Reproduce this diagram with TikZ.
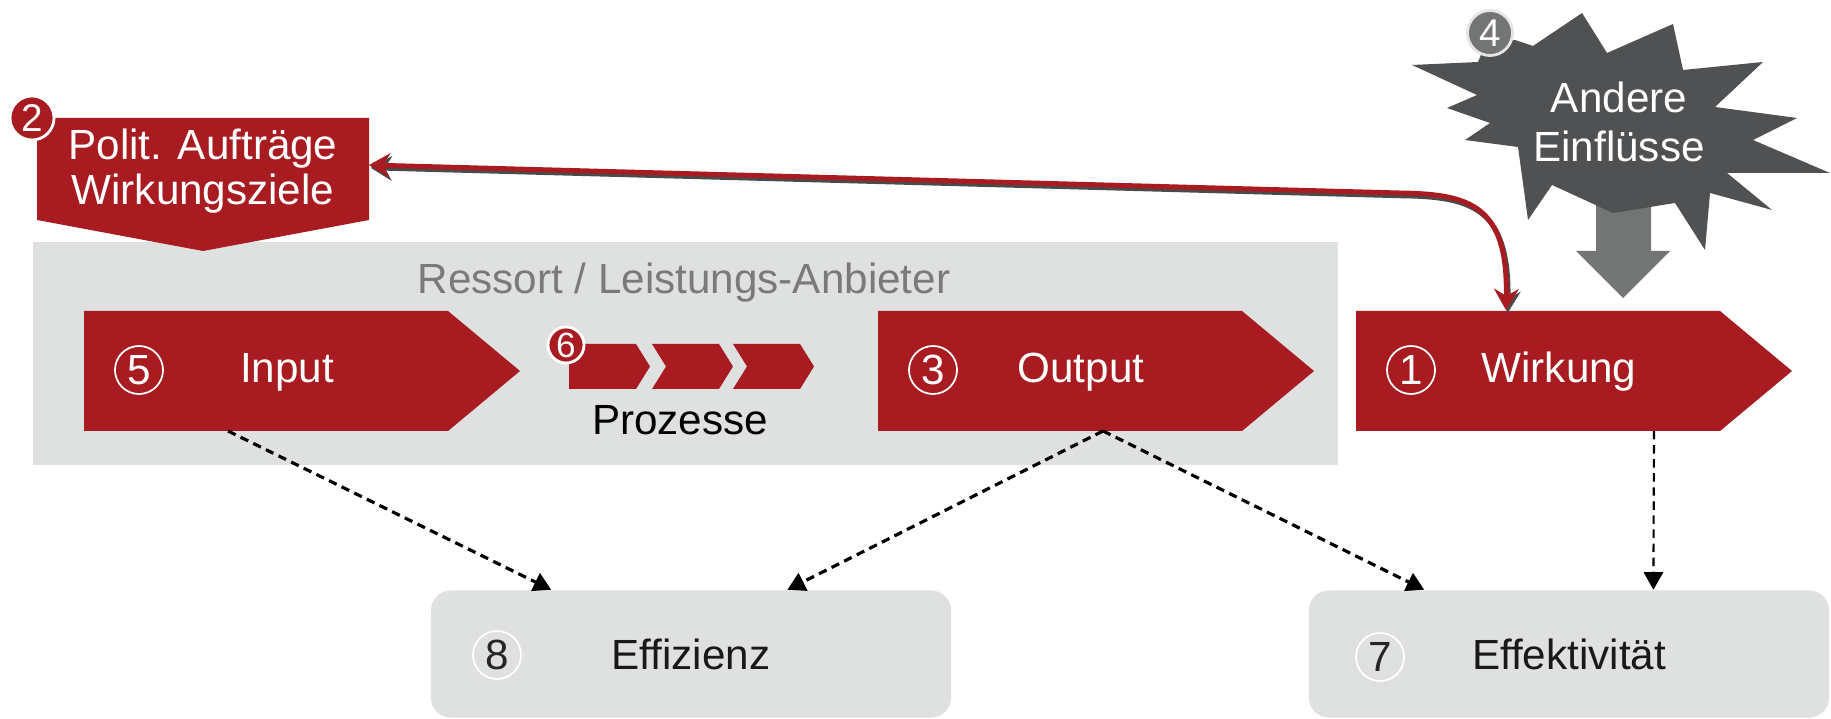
\documentclass[tikz,border=0pt]{standalone}
\usepackage{fontspec}
\setmainfont{Liberation Sans}
\usetikzlibrary{arrows.meta}
\definecolor{bordeaux}{HTML}{A81B21}
\definecolor{panelgrau}{HTML}{DFE0E0}
\definecolor{dunkelgrau}{HTML}{4F5152}
\definecolor{mittelgrau}{HTML}{737474}
\definecolor{schattengrau}{HTML}{4A4A4A}
\definecolor{textgrau}{HTML}{7A7A7A}
\begin{document}
\begin{tikzpicture}[x=0.01cm, y=-0.01cm, font=\fontsize{12}{12.8}\selectfont, line join=round,
  ring/.style={circle, draw=white, line width=0.5pt, minimum size=0.48cm, inner sep=0pt, text=white},
  badge/.style={circle, draw=white, line width=0.8pt, fill=bordeaux, text=white, inner sep=0pt, minimum size=0.44cm, font=\fontsize{11}{11}\selectfont},
  greybox/.style={rounded corners=0.2cm, fill=panelgrau, minimum width=5.2cm, minimum height=1.27cm, text=black!90},
  dasharrow/.style={dash pattern=on 2.4pt off 1.6pt, line width=0.9pt, -{Triangle[length=5pt,width=5.5pt]}},
  bordline/.style={line width=1.4pt, {Stealth[length=6pt,width=7pt,inset=2pt]}-{Stealth[length=6pt,width=7pt,inset=2pt]}}]
	\def\ytop{311}\def\ybot{431}
	\useasboundingbox (0,0) rectangle (1831,719);
	\fill[panelgrau] (33,242) rectangle (1338,465);
	\node[text=textgrau] (ressort) at (684,283) {Ressort / Leistungs-Anbieter};
	\fill[bordeaux] (37,118) -- (369,118) -- (369,220) -- (203,251) -- (37,220) -- cycle;
	\node[text=white, align=center] (ziele) at (203,171) {Polit. Aufträge\\Wirkungsziele};
	\node[badge] (nr2) at (32,118) {2};
	\foreach \x/\n/\t/\name in {84/5/Input/input, 878/3/Output/output, 1356/1/Wirkung/wirkung} {
		\fill[bordeaux] (\x,\ytop) -- ++(364,0) -- ++(72,60) -- ++(-72,60) -- ++(-364,0) -- cycle;
		\node[ring] (\name-nr) at (\x+55,370) {\n};
		\node[text=white] (\name) at (\x+203,372) {\t};
	}
	\fill[bordeaux] (569,344) -- ++(67,0) -- ++(14,22.5) -- ++(-14,22.5) -- ++(-67,0) -- cycle;
	\foreach \x in {652,733} \fill[bordeaux] (\x,344) -- ++(67,0) -- ++(14,22.5) -- ++(-14,22.5) -- ++(-67,0) -- ++(14,-22.5) -- cycle;
	\node[badge, minimum size=0.36cm, font=\fontsize{10}{10}\selectfont] (nr6) at (566,345) {6};
	\node (prozesse) at (680,420) {Prozesse};
	\fill[mittelgrau] (1596,185) -- (1651,185) -- (1651,251) -- (1670,251) -- (1623,298) -- (1576,251) -- (1596,251) -- cycle;
	\fill[dunkelgrau] (1582,13) -- (1607,53) -- (1673,24) -- (1683,70) -- (1763,62) -- (1715,107) -- (1797,118) -- (1753,140) -- (1830,173) -- (1727,173) -- (1772,210) -- (1710,193) -- (1705,250) -- (1675,203) -- (1613,213) -- (1552,185) -- (1528,220) -- (1518,147) -- (1465,140) -- (1490,123) -- (1447,108) -- (1477,95) -- (1412,65) -- (1478,62) -- (1485,45) -- (1515,40) -- (1533,46) -- cycle;
	\node[text=white, align=center, font=\fontsize{12}{14}\selectfont] (einfluss) at (1619,122) {Andere\\Einflüsse};
	\node[badge, fill=mittelgrau, draw=white!80!gray, minimum size=0.45cm] (nr4) at (1490,33) {4};
	\coordinate (wirkung-top) at (1506,310);
	\coordinate (bogen) at (1400,193);
	\coordinate (ziele-e) at (369,165);
	\draw[bordline, schattengrau, transform canvas={shift={(0.5pt,-0.8pt)}}] (wirkung-top) .. controls (1508,205) and (1470,194) .. (bogen) -- (ziele-e);
	\draw[bordline, bordeaux] (wirkung-top) .. controls (1508,205) and (1470,194) .. (bogen) -- (ziele-e);
	\node[greybox] (effizienz) at (691,654) {Effizienz};
	\node[greybox] (effektiv) at (1569,654) {Effektivität};
	\node[ring, text=black!85] (nr8) at (497,655) {8};
	\node[ring, text=black!85] (nr7) at (1380,657) {7};
	\coordinate (input-s) at (228,\ybot);
	\coordinate (output-s) at (1103,\ybot);
	\coordinate (wirkung-s) at (1654,\ybot);
	\draw[dasharrow] (input-s) -- ([xshift=1.21cm]effizienz.north west);
	\draw[dasharrow] (output-s) -- ([xshift=3.57cm]effizienz.north west);
	\draw[dasharrow] (output-s) -- ([xshift=1.16cm]effektiv.north west);
	\draw[dasharrow, line width=0.6pt] (wirkung-s) -- ([xshift=3.45cm]effektiv.north west);
\end{tikzpicture}
\end{document}
